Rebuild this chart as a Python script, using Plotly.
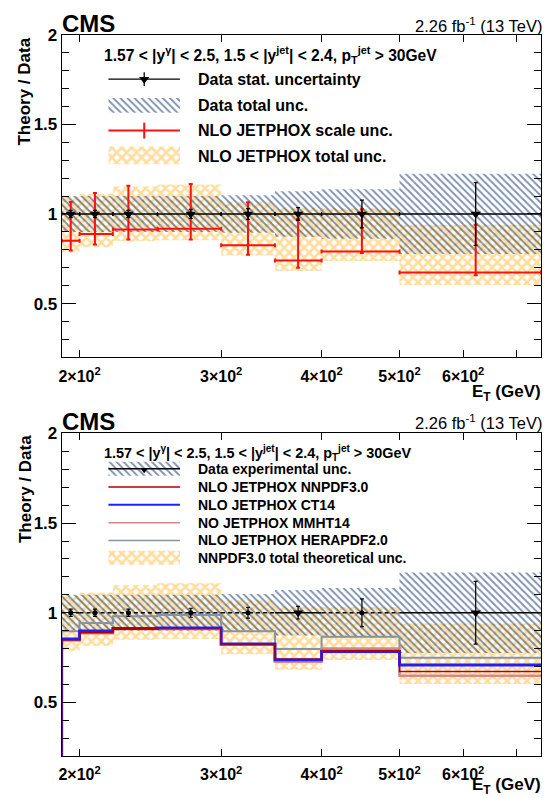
import math
import plotly.graph_objects as go

W, H = 546, 798

# ---------------- data ----------------
bin_edges = [190, 200, 220, 250, 300, 350, 400, 500, 750]
et_points = [195, 209, 230, 275, 324, 374, 449, 622]
data_ratio = [1, 1, 1, 1, 1, 1, 1, 1]
data_stat_unc = [0.02, 0.02, 0.02, 0.025, 0.03, 0.035, 0.077, 0.175]
data_total_unc = [0.10, 0.10, 0.10, 0.10, 0.105, 0.127, 0.138, 0.224]

nnpdf30 = [0.850, 0.889, 0.913, 0.917, 0.826, 0.740, 0.790, 0.673]
scale_up = [1.067, 1.117, 1.157, 1.168, 1.066, 0.974, 1.027, 0.940]
scale_down = [0.796, 0.830, 0.857, 0.857, 0.773, 0.700, 0.782, 0.658]
theory_tot_up = [1.093, 1.113, 1.153, 1.165, 1.068, 1.035, 1.032, 0.940]
theory_tot_down = [0.787, 0.815, 0.849, 0.854, 0.768, 0.682, 0.737, 0.603]

ct14 = [0.854, 0.898, 0.912, 0.915, 0.826, 0.738, 0.784, 0.708]
mmht14 = [0.845, 0.885, 0.910, 0.910, 0.822, 0.727, 0.800, 0.648]
herapdf20 = [0.897, 0.943, 0.980, 0.988, 0.897, 0.798, 0.866, 0.749]

x_tick_vals = [200, 300, 400, 500, 600, 700]
x_tick_text = ["2×10<sup>2</sup>", "3×10<sup>2</sup>", "4×10<sup>2</sup>",
               "5×10<sup>2</sup>", "6×10<sup>2</sup>", " "]
Y_MIN, Y_MAX = 0.2, 2.0

# styles
bottom_dashed = [True, True, True, True, True, False, True, False]
FONT = "Liberation Sans"
ORANGE = "#ffbb40"
HATCH = "#00265e"

fig = go.Figure()


def band(lo, hi):
    xs, ys = [], []
    for i in range(len(lo)):
        a, b = bin_edges[i], bin_edges[i + 1]
        xs += [a, b, b, a, a, None]
        ys += [lo[i], lo[i], hi[i], hi[i], lo[i], None]
    return xs, ys


def hatch_trace(xs, ys, xa, ya):
    return go.Scatter(x=xs, y=ys, xaxis=xa, yaxis=ya, mode="lines", fill="toself",
                      line=dict(width=0, color="rgba(0,0,0,0)"),
                      fillcolor="rgba(0,0,0,0)",
                      fillpattern=dict(shape="\\", fgcolor=HATCH, bgcolor="rgba(0,0,0,0)",
                                       size=5, solidity=0.38),
                      hoverinfo="skip", showlegend=False)


def cross_trace(xs, ys, xa, ya):
    return go.Scatter(x=xs, y=ys, xaxis=xa, yaxis=ya, mode="lines", fill="toself",
                      line=dict(width=0, color="rgba(0,0,0,0)"),
                      fillcolor="rgba(0,0,0,0)",
                      fillpattern=dict(shape="x", fgcolor=ORANGE, bgcolor="rgba(0,0,0,0)",
                                       size=7, solidity=0.62),
                      hoverinfo="skip", showlegend=False)


ex_plus = [bin_edges[i + 1] - et_points[i] for i in range(len(et_points))]
ex_minus = [et_points[i] - bin_edges[i] for i in range(len(et_points))]

d_lo = [r - u for r, u in zip(data_ratio, data_total_unc)]
d_hi = [r + u for r, u in zip(data_ratio, data_total_unc)]

for xa, ya in (("x", "y"), ("x2", "y2")):
    ox, oy = band(theory_tot_down, theory_tot_up)
    fig.add_trace(cross_trace(ox, oy, xa, ya))
    hx, hy = band(d_lo, d_hi)
    fig.add_trace(hatch_trace(hx, hy, xa, ya))

# ---- top panel: red scale-unc error bars
fig.add_trace(go.Scatter(
    x=et_points, y=nnpdf30, xaxis="x", yaxis="y", mode="markers",
    marker=dict(size=1, color="red"),
    error_x=dict(type="data", symmetric=False, array=ex_plus, arrayminus=ex_minus,
                 color="#ff1010", thickness=2, width=2),
    error_y=dict(type="data", symmetric=False,
                 array=[u - c for u, c in zip(scale_up, nnpdf30)],
                 arrayminus=[c - d for c, d in zip(nnpdf30, scale_down)],
                 color="#ff1010", thickness=2, width=2),
    showlegend=False, hoverinfo="skip"))

# ---- top panel: data
fig.add_trace(go.Scatter(
    x=et_points, y=data_ratio, xaxis="x", yaxis="y", mode="markers",
    marker=dict(symbol="triangle-down", size=9, color="black"),
    error_x=dict(type="data", symmetric=False, array=ex_plus, arrayminus=ex_minus,
                 color="black", thickness=1.3, width=2),
    error_y=dict(type="data", array=data_stat_unc, color="black", thickness=1.3, width=2),
    showlegend=False, hoverinfo="skip"))

# ---- bottom panel: PDF step lines
for vals, col, wid in ((herapdf20, "#8494a4", 2), (mmht14, "#d48a8a", 2.5),
                       (ct14, "#1f1fff", 3), (nnpdf30, "#b00000", 1.5)):
    fig.add_trace(go.Scatter(
        x=[bin_edges[0]] + bin_edges, y=[Y_MIN] + vals + [vals[-1]],
        xaxis="x2", yaxis="y2", mode="lines", line=dict(color=col, width=wid, shape="hv"),
        showlegend=False, hoverinfo="skip"))

# ---- bottom panel: data
for dashed in (True, False):
    xs, ys = [], []
    for i in range(len(et_points)):
        if bottom_dashed[i] == dashed:
            xs += [bin_edges[i], bin_edges[i + 1], None]
            ys += [data_ratio[i], data_ratio[i], None]
    fig.add_trace(go.Scatter(x=xs, y=ys, xaxis="x2", yaxis="y2", mode="lines",
                             line=dict(color="black", width=1.3,
                                       dash="4px,3px" if dashed else "solid"),
                             showlegend=False, hoverinfo="skip"))
    idx = [i for i in range(len(et_points)) if bottom_dashed[i] == dashed]
    fig.add_trace(go.Scatter(
        x=[et_points[i] for i in idx], y=[data_ratio[i] for i in idx],
        xaxis="x2", yaxis="y2", mode="markers",
        marker=dict(symbol="circle" if dashed else "triangle-down",
                    size=5 if dashed else 9, color="black"),
        error_y=dict(type="data", array=[data_stat_unc[i] for i in idx],
                     color="black", thickness=1.2, width=2),
        showlegend=False, hoverinfo="skip"))

# ---------------- legends (drawn on a pixel-coordinate overlay) ----------------
LX0, LX1 = 106, 178
LXC = (LX0 + LX1) / 2


def box(y0, y1):
    return [LX0, LX1, LX1, LX0, LX0], [y0, y0, y1, y1, y0]


# top legend
fig.add_trace(go.Scatter(x=[LX0, LX1], y=[71, 71], xaxis="x3", yaxis="y3", mode="lines",
                         line=dict(color="black", width=1.3), showlegend=False, hoverinfo="skip"))
fig.add_trace(go.Scatter(x=[LXC], y=[71], xaxis="x3", yaxis="y3", mode="markers",
                         marker=dict(symbol="triangle-down", size=9, color="black"),
                         error_y=dict(type="constant", value=7, color="black", thickness=1.3, width=0),
                         showlegend=False, hoverinfo="skip"))
bx, by = box(90, 105)
fig.add_trace(hatch_trace(bx, by, "x3", "y3"))
fig.add_trace(go.Scatter(x=[LX0, LX1], y=[123, 123], xaxis="x3", yaxis="y3", mode="lines",
                         line=dict(color="#ff1010", width=2), showlegend=False, hoverinfo="skip"))
fig.add_trace(go.Scatter(x=[LXC], y=[123], xaxis="x3", yaxis="y3", mode="markers",
                         marker=dict(size=1, color="#ff1010"),
                         error_y=dict(type="constant", value=8, color="#ff1010", thickness=2, width=0),
                         showlegend=False, hoverinfo="skip"))
bx, by = box(139, 157)
fig.add_trace(cross_trace(bx, by, "x3", "y3"))

# bottom legend
bx, by = box(458, 472)
fig.add_trace(hatch_trace(bx, by, "x3", "y3"))
fig.add_trace(go.Scatter(x=[LX0, LX1], y=[465, 465], xaxis="x3", yaxis="y3", mode="lines",
                         line=dict(color="black", width=1.3), showlegend=False, hoverinfo="skip"))
fig.add_trace(go.Scatter(x=[LXC], y=[466], xaxis="x3", yaxis="y3", mode="markers",
                         marker=dict(symbol="triangle-down", size=7, color="black"),
                         showlegend=False, hoverinfo="skip"))
for yy, col, wid in ((483.5, "#b00000", 1.5), (501.5, "#1f1fff", 2),
                     (519.5, "#d48a8a", 1.5), (537.5, "#8494a4", 1.5)):
    fig.add_trace(go.Scatter(x=[LX0, LX1], y=[yy, yy], xaxis="x3", yaxis="y3", mode="lines",
                             line=dict(color=col, width=wid), showlegend=False, hoverinfo="skip"))
bx, by = box(548, 562)
fig.add_trace(cross_trace(bx, by, "x3", "y3"))

# ---------------- annotations ----------------
ann = []


def text(x, y, s, size, bold=True, xanchor="left", yanchor="middle", angle=0):
    ann.append(dict(x=x / W, y=1 - y / H, xref="paper", yref="paper", text=s, showarrow=False,
                    xanchor=xanchor, yanchor=yanchor, textangle=angle,
                    font=dict(family=FONT, size=size, color="black",
                              weight="bold" if bold else "normal")))


header = ("1.57 &lt; |y<sup>γ</sup>| &lt; 2.5, 1.5 &lt; |y<sup>jet</sup>| &lt; 2.4, "
          "p<sub>T</sub><sup>jet</sup> &gt; 30GeV")
for off, hsize in ((0, 15.6), (402, 14.4)):
    text(57, 15 + off, "CMS", 24)
    text(544, 16 + off, "2.26 fb<sup>-1</sup> (13 TeV)", 16.5, bold=False, xanchor="right")
    text(22, 27 + off, "Theory / Data", 17, xanchor="center", yanchor="top", angle=-90)
    text(100, 47 + off, header, hsize)

text(543, 388, "E<sub>T</sub> (GeV)", 17, xanchor="right")
text(543, 786, "E<sub>T</sub> (GeV)", 17, xanchor="right")

for yy, s in ((71, "Data stat. uncertainty"), (98, "Data total unc."),
              (123, "NLO JETPHOX scale unc."), (149, "NLO JETPHOX total unc.")):
    text(194, yy, s, 16)
for yy, s in ((465, "Data experimental unc."), (483.5, "NLO JETPHOX NNPDF3.0"),
              (501.5, "NLO JETPHOX CT14"), (519.5, "NO JETPHOX MMHT14"),
              (537.5, "NLO JETPHOX HERAPDF2.0"), (555.5, "NNPDF3.0 total theoretical unc.")):
    text(194, yy, s, 14)

# ---------------- axes ----------------
XD = [59 / W, 541 / W]
top_dom = [1 - 352.3 / H, 1 - 26.1 / H]
bot_dom = [1 - 755.7 / H, 1 - 429.3 / H]

xcommon = dict(type="log", range=[math.log10(bin_edges[0]), math.log10(bin_edges[-1])],
               domain=XD, tickmode="array", tickvals=x_tick_vals, ticktext=x_tick_text,
               ticks="inside", ticklen=7, tickwidth=1, tickcolor="black",
               showline=True, linecolor="black", linewidth=1, mirror="allticks",
               showgrid=False, zeroline=False, ticklabelstandoff=4,
               tickfont=dict(family=FONT, size=16, color="black", weight="bold"))
ycommon = dict(range=[Y_MIN, Y_MAX], tickmode="linear", tick0=0, dtick=0.5,
               ticks="inside", ticklen=14, tickwidth=1, tickcolor="black",
               showline=True, linecolor="black", linewidth=1, mirror="allticks",
               showgrid=False, zeroline=False,
               minor=dict(ticks="inside", ticklen=7, tickwidth=1, tickcolor="black",
                          dtick=0.1, tick0=0, showgrid=False),
               tickfont=dict(family=FONT, size=17, color="black", weight="bold"))

fig.update_layout(
    width=W, height=H, margin=dict(l=0, r=0, t=0, b=0),
    paper_bgcolor="white", plot_bgcolor="rgba(0,0,0,0)", showlegend=False,
    xaxis=dict(xcommon, anchor="y"),
    yaxis=dict(ycommon, domain=top_dom, anchor="x"),
    xaxis2=dict(xcommon, anchor="y2"),
    yaxis2=dict(ycommon, domain=bot_dom, anchor="x2"),
    xaxis3=dict(domain=[0, 1], range=[0, W], visible=False, anchor="y3", fixedrange=True),
    yaxis3=dict(domain=[0, 1], range=[H, 0], visible=False, anchor="x3", fixedrange=True),
    annotations=ann,
)

fig.write_html(
    "out.html",
    config={"displayModeBar": False},
    post_script=(
        "document.body.style.margin='0';document.body.style.padding='0';"
        "document.documentElement.style.overflow='hidden';"
        "var gd=document.getElementById('{plot_id}');"
        "gd.style.position='absolute';gd.style.left='0px';gd.style.top='0px';"
    ),
)
